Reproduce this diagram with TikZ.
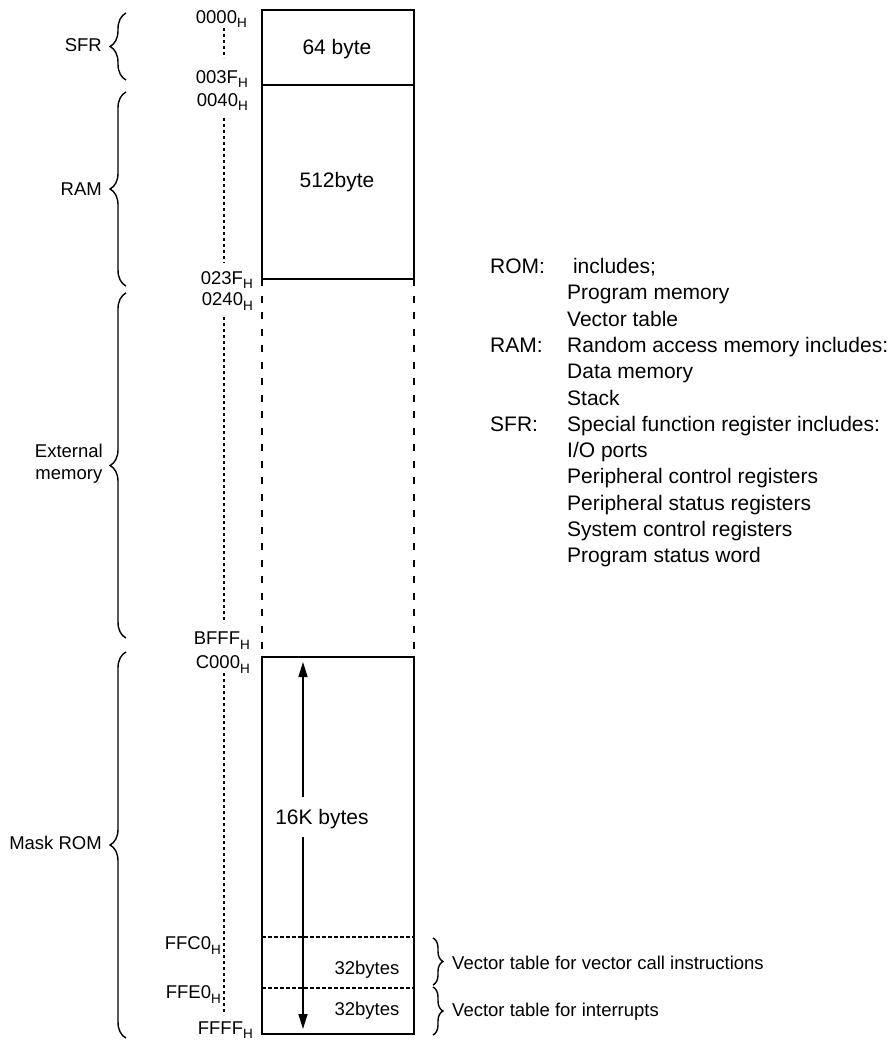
\documentclass[tikz,border=0pt]{standalone}
\usepackage{fontspec}
\setmainfont{Liberation Sans}
\usetikzlibrary{arrows.meta,decorations.pathreplacing}

% subscript "H" of an address
\newcommand{\hsub}{\raisebox{-4.5pt}{\fontsize{13.5}{14}\selectfont H}}

\begin{document}
\begin{tikzpicture}[
  x=1pt, y=-1pt,
  memline/.style={line width=1.6pt},
  sidedash/.style={line width=1.5pt, dash pattern=on 7pt off 9.5pt},
  bounddash/.style={line width=1.3pt, dash pattern=on 3.5pt off 2.5pt},
  addrdots/.style={line width=1.5pt, dash pattern=on 3pt off 3pt},
  lbrace/.style={decorate, decoration={brace, amplitude=16pt}, line width=1.4pt},
  rbrace/.style={decorate, decoration={brace, amplitude=10pt}, line width=1.4pt},
  small/.style={font=\fontsize{18.5}{22}\selectfont, inner sep=0pt},
  big/.style={font=\fontsize{21}{26}\selectfont, inner sep=0pt},
  addr/.style={small, anchor=base east},
  sizearrow/.style={line width=1.6pt, -{Triangle[length=15pt, width=9pt]}}
]
\useasboundingbox (0,0) rectangle (893,1040);

% ---- memory column ----
\draw[memline] (262,85) -- (262,10) -- (414,10) -- (414,85);
\draw[memline] (262,85) rectangle (414,279);
\draw[sidedash] (262,279) -- (262,657);
\draw[sidedash] (414,279) -- (414,657);
\draw[memline] (262,657) rectangle (414,1034);
\draw[bounddash] (262,937) -- (414,937);
\draw[bounddash] (262,988) -- (414,988);

% ---- block sizes ----
\node[big, anchor=base] (sfrsize) at (337,54.5) {64 byte};
\node[big, anchor=base] (ramsize) at (337,187.5) {512byte};
\node[big, anchor=base] (romsize) at (322,824.5) {16K bytes};
\node[small, anchor=base] (vcsize) at (367,974) {32bytes};
\node[small, anchor=base] (irsize) at (367,1015) {32bytes};

\coordinate (arrtop) at (303,662);
\coordinate (arrbot) at (303,1029);
\coordinate (gaptop) at (303,797);
\coordinate (gapbot) at (303,837);
\draw[sizearrow] (gaptop) -- (arrtop);
\draw[sizearrow] (gapbot) -- (arrbot);

% ---- addresses ----
\node[addr] (a0000) at (247,23.5) {0000\hsub};
\node[addr] (a003F) at (248,83.5) {003F\hsub};
\node[addr] (a0040) at (248,106.5) {0040\hsub};
\node[addr] (a023F) at (253,284.5) {023F\hsub};
\node[addr] (a0240) at (253,305.5) {0240\hsub};
\node[addr] (aBFFF) at (250,644.5) {BFFF\hsub};
\node[addr] (aC000) at (250,668.5) {C000\hsub};
\node[addr] (aFFC0) at (221,949.5) {FFC0\hsub};
\node[addr] (aFFE0) at (221,998.5) {FFE0\hsub};
\node[addr] (aFFFF) at (253,1034) {FFFF\hsub};

\draw[addrdots] (224,28) -- (224,58);
\draw[addrdots] (224,118) -- (224,263);
\draw[addrdots] (224,317) -- (224,623);
\draw[addrdots] (224,673) -- (224,1015);

% ---- region braces ----
\draw[lbrace] (126,80) -- (126,13);
\draw[lbrace] (126,286) -- (126,92);
\draw[lbrace] (126,638) -- (126,293);
\draw[lbrace] (126,1038) -- (126,652);

\node[small, anchor=east] (lsfr) at (102,45) {SFR};
\node[small, anchor=east] (lram) at (102,189) {RAM};
\node[small, anchor=east, align=center] (lext) at (103,464) {External\\memory};
\node[small, anchor=east] (lrom) at (102,843) {Mask ROM};

% ---- vector table braces ----
\draw[rbrace] (433,938) -- (433,985);
\draw[rbrace] (433,987) -- (433,1035);
\node[small, anchor=base west] (lvc) at (452,969.5) {Vector table for vector call instructions};
\node[small, anchor=base west] (lir) at (452,1016.5) {Vector table for interrupts};

% ---- legend ----
\foreach \row/\txt in {0/{\ includes;}, 1/{Program memory}, 2/{Vector table},
  3/{Random access memory includes:}, 4/{Data memory}, 5/{Stack},
  6/{Special function register includes:}, 7/{I/O ports},
  8/{Peripheral control registers}, 9/{Peripheral status registers},
  10/{System control registers}, 11/{Program status word}}
  \node[big, anchor=base west] (leg\row) at (567,273.5+26.3*\row) {\txt};
\node[big, anchor=base west] (kROM) at (490,273.5) {ROM:};
\node[big, anchor=base west] (kRAM) at (490,273.5+26.3*3) {RAM:};
\node[big, anchor=base west] (kSFR) at (490,273.5+26.3*6) {SFR:};
\end{tikzpicture}
\end{document}
